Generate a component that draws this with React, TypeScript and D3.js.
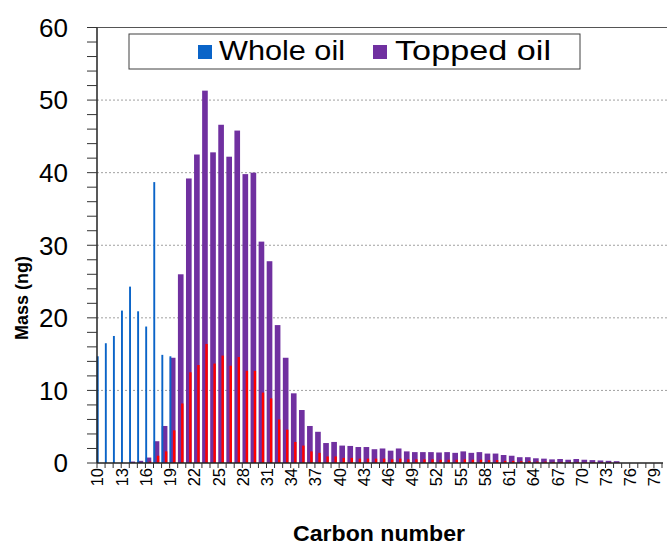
import React from "react";
import * as d3 from "d3";

const carbonNumbers: number[] = d3.range(10, 80);

const wholeOil: number[] = [
  14.7, 16.5, 17.5, 21.0, 24.3, 20.9, 18.8, 38.7, 14.9, 14.7,
  0, 0, 0, 0, 0, 0, 0, 0, 0, 0,
  0, 0, 0, 0, 0, 0, 0, 0, 0, 0,
  0, 0, 0, 0, 0, 0, 0, 0, 0, 0,
  0, 0, 0, 0, 0, 0, 0, 0, 0, 0,
  0, 0, 0, 0, 0, 0, 0, 0, 0, 0,
  0, 0, 0, 0, 0, 0, 0, 0, 0, 0,
];

const toppedOil: number[] = [
  0, 0, 0, 0, 0.2, 0.3, 0.75, 3.0, 5.1, 14.5,
  26.0, 39.2, 42.5, 51.3, 42.8, 46.6, 42.2, 45.8, 39.8, 40.0,
  30.5, 27.8, 19.0, 14.5, 9.6, 7.3, 5.1, 4.3, 2.75, 2.9,
  2.4, 2.35, 2.2, 2.2, 1.9, 2.0, 1.7, 2.0, 1.6, 1.5,
  1.5, 1.5, 1.45, 1.5, 1.4, 1.6, 1.4, 1.5, 1.3, 1.3,
  1.1, 1.0, 0.8, 0.8, 0.65, 0.6, 0.5, 0.55, 0.45, 0.55,
  0.45, 0.4, 0.35, 0.3, 0.25, 0, 0, 0, 0, 0,
];

const redSeries: number[] = [
  0, 0, 0, 0, 0, 0, 0.2, 1.0, 1.6, 4.5,
  8.2, 12.5, 13.5, 16.4, 13.7, 14.8, 13.4, 14.6, 12.7, 12.7,
  9.7, 8.9, 6.0, 4.6, 2.9, 2.4, 1.6, 1.4, 0.9, 0.9,
  0.7, 0.7, 0.6, 0.6, 0.6, 0.6, 0.5, 0.6, 0.5, 0.5,
  0.5, 0.5, 0.45, 0.45, 0.45, 0.5, 0.45, 0.45, 0.4, 0.4,
  0.3, 0.3, 0.25, 0.25, 0.2, 0.2, 0.15, 0.15, 0.15, 0.15,
  0.1, 0.1, 0.1, 0.1, 0.05, 0, 0, 0, 0, 0,
];

const yTicks: number[] = [0, 10, 20, 30, 40, 50, 60];
const xLabelValues: number[] = d3.range(10, 80, 3);

const BLUE = "#0a64c8";
const PURPLE = "#7030a0";
const RED = "#ff0000";

export default function App() {
  const W = 667, H = 547;
  const left = 97, right = 662, top = 27.5, bottom = 463;

  const x = d3.scaleBand<number>().domain(carbonNumbers).range([left, right]).padding(0);
  const y = d3.scaleLinear().domain([0, 60]).range([bottom, top]);
  const bw = x.bandwidth();

  const minorY = d3.range(0, 61, 2);

  return (
    <svg width={W} height={H} style={{ position: "absolute", left: 0, top: 0, display: "block" }}
      fontFamily="'Liberation Sans', Arial, sans-serif">
      <rect x={0} y={0} width={W} height={H} fill="#ffffff" />
      {/* gridlines */}
      {yTicks.filter(t => t > 0 && t < 60).map(t => (
        <line key={"g" + t} x1={left} x2={W} y1={y(t)} y2={y(t)} stroke="#a0a0a0" strokeWidth={1} strokeDasharray="2,2" />
      ))}
      <line x1={left} x2={W} y1={y(60)} y2={y(60)} stroke="#555" strokeWidth={1.2} />

      {/* purple bars */}
      {carbonNumbers.map((c, i) => toppedOil[i] > 0 ? (
        <rect key={"p" + c} x={(x(c) as number) + 0.2} width={bw * 0.7} y={y(toppedOil[i])}
          height={bottom - y(toppedOil[i])} fill={PURPLE} />
      ) : null)}
      {/* blue bars */}
      {carbonNumbers.map((c, i) => wholeOil[i] > 0 ? (
        <rect key={"b" + c} x={(x(c) as number) - 0.2} width={1.9} y={y(wholeOil[i])}
          height={bottom - y(wholeOil[i])} fill={BLUE} />
      ) : null)}
      {/* red bars */}
      {carbonNumbers.map((c, i) => redSeries[i] > 0 ? (
        <rect key={"r" + c} x={(x(c) as number) + bw * 0.42} width={2.4} y={y(redSeries[i])}
          height={bottom - y(redSeries[i])} fill={RED} />
      ) : null)}

      {/* y axis */}
      <line x1={left} x2={left} y1={top} y2={bottom} stroke="#222" strokeWidth={1.5} />
      {minorY.map(t => (
        <line key={"yt" + t} x1={left - 10} x2={left} y1={y(t)} y2={y(t)} stroke="#333" strokeWidth={1} />
      ))}
      {yTicks.map(t => (
        <text key={"yl" + t} x={68} y={y(t)} dy="0.36em" textAnchor="end" fontSize={26} fill="#000">{t}</text>
      ))}
      <text transform={`translate(22,298) rotate(-90)`} textAnchor="middle" dy="0.35em" fontSize={18} fontWeight="bold">Mass (ng)</text>

      {/* x axis */}
      <line x1={left} x2={right + 1} y1={bottom} y2={bottom} stroke="#222" strokeWidth={1.5} />
      {carbonNumbers.concat([80]).map((c, i) => (
        <line key={"xt" + c} x1={left + i * bw} x2={left + i * bw} y1={bottom} y2={bottom + 5} stroke="#333" strokeWidth={1} />
      ))}
      {xLabelValues.map(v => (
        <text key={"xl" + v} transform={`translate(${(x(v) as number) + 0.5},468) rotate(-90)`}
          textAnchor="end" dy="0.36em" fontSize={16.5} fill="#000">{v}</text>
      ))}
      <text x={379} y={541} textAnchor="middle" fontSize={22.5} fontWeight="bold" textLength={172} lengthAdjust="spacingAndGlyphs">Carbon number</text>

      {/* legend */}
      <rect x={129} y={34} width={451} height={35} fill="#fff" stroke="#404040" strokeWidth={1} />
      <rect x={198} y={45} width={14} height={14} fill={BLUE} />
      <text x={219} y={59.5} fontSize={27} fill="#000" textLength={126} lengthAdjust="spacingAndGlyphs">Whole oil</text>
      <rect x={373} y={45} width={14} height={14} fill={PURPLE} />
      <text x={395} y={59.5} fontSize={27} fill="#000" textLength={156} lengthAdjust="spacingAndGlyphs">Topped oil</text>
    </svg>
  );
}
